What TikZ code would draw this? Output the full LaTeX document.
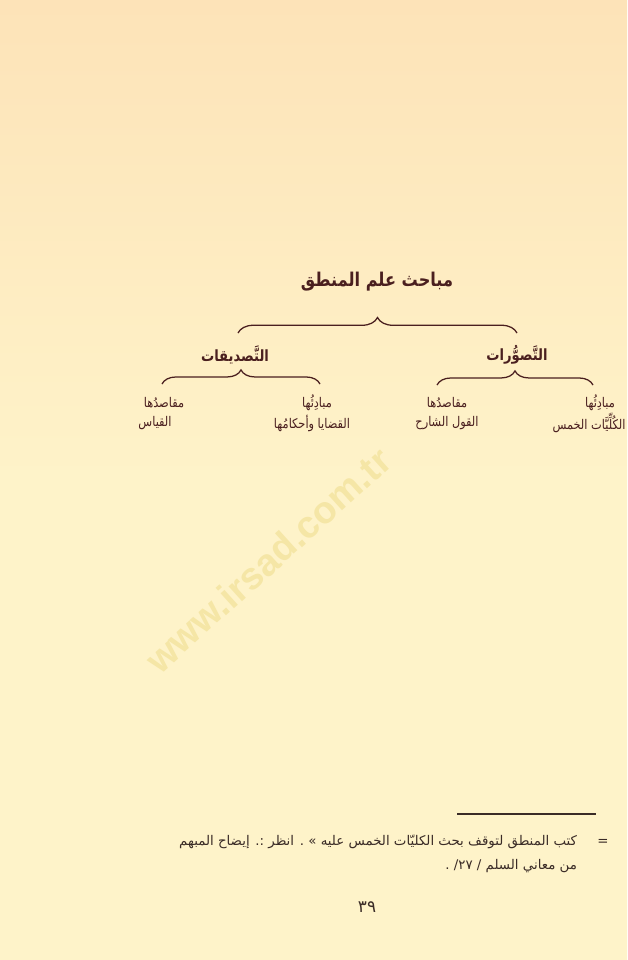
\documentclass[tikz,border=0pt]{standalone}
\usepackage{fontspec}
\usetikzlibrary{positioning,calc,decorations.pathreplacing}
\TeXXeTstate=1
\newfontfamily\arabicfont[Script=Arabic]{DejaVu Sans}
\newfontfamily\arabicnarrow[Script=Arabic,FakeStretch=0.85]{DejaVu Sans}
\newfontfamily\stampfont{Liberation Sans}
\definecolor{ink}{HTML}{4A1F1F}
\definecolor{note}{HTML}{3A2B26}
\definecolor{paper}{HTML}{FEF3C9}
\definecolor{papertop}{HTML}{FDE3B8}
\definecolor{stamp}{HTML}{F5E6A6}
\tikzset{
  head/.style={text=ink,font=\arabicnarrow\bfseries\fontsize{13.5}{16}\selectfont},
  part/.style={text=ink,font=\arabicnarrow\bfseries\fontsize{11}{13}\selectfont},
  leaf/.style={text=ink,font=\arabicnarrow\fontsize{9.5}{11}\selectfont},
  footnote/.style={text=note,font=\arabicfont\fontsize{9.5}{12}\selectfont},
  curly/.style n args={1}{draw=ink,line width=0.9pt,decorate,
    decoration={brace,amplitude=#1}}
}

\begin{document}
\begin{tikzpicture}[x=0.025cm,y=-0.025cm]
	% page
	\useasboundingbox (0,0) rectangle (627,960);
	\shade[top color=papertop,bottom color=paper,middle color=paper] (0,0) rectangle (627,960);
	\node[rotate=42,text=stamp,font=\stampfont\bfseries\fontsize{27}{30}\selectfont] (stamp) at (268,560) {www.irsad.com.tr};

	% tree
	\node[head] (mabahith) at (377,282) {\beginR مباحث علم المنطق\endR};
	\node[part] (tasdiq) at (235,355) {\beginR التَّصديقات\endR};
	\node[part] (tasawwur) at (517,355) {\beginR التَّصوُّرات\endR};

	\node[leaf] (maqasidB) at (164,403) {\beginR مقاصدُها\endR};
	\node[leaf] (mabadiB) at (317,403) {\beginR مبادِئُها\endR};
	\node[leaf] (maqasidA) at (447,403) {\beginR مقاصدُها\endR};
	\node[leaf] (mabadiA) at (600,403) {\beginR مبادِئُها\endR};

	\node[leaf] (qiyas) at (155,423) {\beginR القياس\endR};
	\node[leaf] (qadaya) at (312,423) {\beginR القضايا وأحكامُها\endR};
	\node[leaf] (qawl) at (447,423) {\beginR القول الشارح\endR};
	\node[leaf] (kulliyat) at (589,423) {\beginR الكُلِّيَّات الخمس\endR};

	\draw[curly=11pt] ($(tasdiq)+(3,-22)$) -- ($(tasawwur)+(0,-22)$);
	\draw[curly=10pt] ($(maqasidB)+(-2,-19)$) -- ($(mabadiB)+(3,-19)$);
	\draw[curly=10pt] ($(maqasidA)+(-10,-18)$) -- ($(mabadiA)+(-7,-18)$);

	% footnote
	\coordinate (ruleL) at (457,814);
	\coordinate (ruleR) at (596,814);
	\draw[note,line width=0.8pt] (ruleL) -- (ruleR);
	\node[footnote] (eq) at (603,842) {=};
	\node[footnote,anchor=east] (fnA) at (582,842) {\beginR كتب المنطق لتوقف بحث الكليّات الخمس عليه » . انظر :. إيضاح المبهم\endR};
	\node[footnote,anchor=east] (fnB) at (582,866) {\beginR من معاني السلم / \beginL ٢٧\endL{}/ .\endR};
	\node[footnote,font=\arabicfont\fontsize{12}{14}\selectfont] (pagenum) at (367,907) {٣٩};
\end{tikzpicture}
\end{document}
